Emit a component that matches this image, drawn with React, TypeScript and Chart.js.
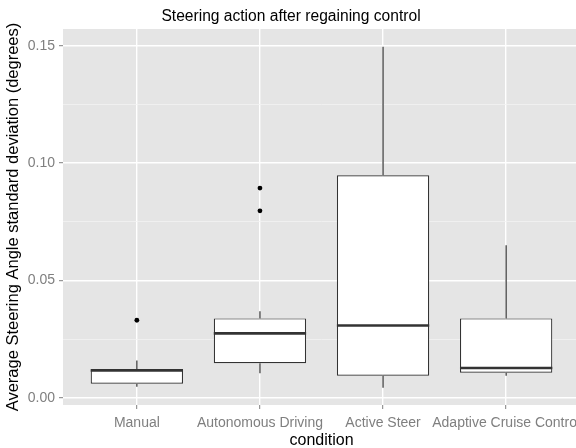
import { useEffect, useRef } from 'react';
import { Chart, registerables } from 'chart.js';

Chart.register(...registerables);

const categories = ['Manual', 'Autonomous Driving', 'Active Steer', 'Adaptive Cruise Control'];
const lowerWhisker = [0.0048, 0.0105, 0.0044, 0.0095];
const q1 = [0.0061, 0.0148, 0.0095, 0.0108];
const median = [0.0117, 0.0275, 0.0309, 0.0128];
const q3 = [0.0123, 0.0339, 0.0948, 0.0339];
const upperWhisker = [0.016, 0.0369, 0.1495, 0.065];
const outliers: number[][] = [[0.0331], [0.0894, 0.0797], [], []];

const yTicks = [0, 0.025, 0.05, 0.075, 0.1, 0.125, 0.15];
const majorYTicks = [0, 0.05, 0.1, 0.15];

const FONT = "'Liberation Sans', Arial, sans-serif";

export default function App() {
  const ref = useRef<HTMLCanvasElement>(null);

  useEffect(() => {
    const canvas = ref.current;
    if (!canvas) return;
    const positions = categories.map((_, i) => i + 1);
    const boxData = positions.map((x, i) => ({ x, y: [q1[i], q3[i]] }));
    const outlierData = outliers.flatMap((arr, i) => arr.map((v) => ({ x: i + 1, y: v })));

    const panelBg = {
      id: 'panelBg',
      beforeDraw(chart: any) {
        const { ctx, chartArea: a } = chart;
        ctx.save();
        ctx.fillStyle = '#E5E5E5';
        ctx.fillRect(a.left, a.top, a.right - a.left, a.bottom - a.top);
        ctx.restore();
      },
    };

    const boxExtras = {
      id: 'boxExtras',
      beforeDatasetsDraw(chart: any) {
        const { ctx } = chart;
        const xs = chart.scales.x;
        const ys = chart.scales.y;
        ctx.save();
        ctx.strokeStyle = '#333333';
        ctx.lineWidth = 1.2;
        positions.forEach((p, i) => {
          const x = xs.getPixelForValue(p);
          ctx.beginPath();
          ctx.moveTo(x, ys.getPixelForValue(q3[i]));
          ctx.lineTo(x, ys.getPixelForValue(upperWhisker[i]));
          ctx.moveTo(x, ys.getPixelForValue(q1[i]));
          ctx.lineTo(x, ys.getPixelForValue(lowerWhisker[i]));
          ctx.stroke();
        });
        ctx.restore();
      },
      afterDatasetsDraw(chart: any) {
        const { ctx } = chart;
        const ys = chart.scales.y;
        const meta = chart.getDatasetMeta(0);
        ctx.save();
        ctx.strokeStyle = '#333333';
        ctx.lineWidth = 2.6;
        meta.data.forEach((el: any, i: number) => {
          const y = ys.getPixelForValue(median[i]);
          ctx.beginPath();
          ctx.moveTo(el.x - el.width / 2, y);
          ctx.lineTo(el.x + el.width / 2, y);
          ctx.stroke();
        });
        ctx.restore();
      },
    };

    const chart = new Chart(canvas, {
      type: 'bar',
      data: {
        datasets: [
          {
            type: 'bar',
            data: boxData as any,
            backgroundColor: '#FFFFFF',
            borderColor: '#333333',
            borderWidth: 1.2,
            borderSkipped: false,
            barPercentage: 0.75,
            categoryPercentage: 1,
          },
          {
            type: 'scatter',
            data: outlierData as any,
            backgroundColor: '#000000',
            borderWidth: 0,
            pointRadius: 2.4,
          } as any,
        ],
      },
      options: {
        animation: false,
        responsive: false,
        devicePixelRatio: 1,
        layout: { padding: { left: 0, right: 2, top: 0, bottom: 0 } },
        plugins: {
          legend: { display: false },
          tooltip: { enabled: false },
          title: {
            display: true,
            text: 'Steering action after regaining control',
            color: '#000000',
            font: { family: FONT, size: 15.6, weight: 'normal' },
            padding: { top: 7.7, bottom: 2.6 },
          },
        },
        scales: {
          x: {
            type: 'linear',
            min: 0.4,
            max: 4.6,
            offset: false,
            afterBuildTicks: (scale: any) => {
              scale.ticks = positions.map((v) => ({ value: v }));
            },
            afterFit: (scale: any) => {
              scale.height = 43;
              scale.paddingLeft = 0;
              scale.paddingRight = 0;
            },
            ticks: {
              autoSkip: false,
              maxRotation: 0,
              minRotation: 0,
              padding: 6,
              color: '#7F7F7F',
              font: { family: FONT, size: 14 },
              callback: (v: any) => categories[Math.round(Number(v)) - 1] ?? '',
            },
            grid: {
              offset: false,
              color: '#FFFFFF',
              lineWidth: 1.4,
              tickColor: '#7F7F7F',
              tickLength: 4,
              tickWidth: 1,
            },
            border: { display: false },
            title: {
              display: true,
              text: 'condition',
              color: '#000000',
              font: { family: FONT, size: 16 },
              padding: { top: 0, bottom: -2.5 },
            },
          } as any,
          y: {
            type: 'linear',
            min: -0.00298,
            max: 0.1571,
            afterBuildTicks: (scale: any) => {
              scale.ticks = yTicks.map((v) => ({ value: v }));
            },
            afterFit: (scale: any) => {
              scale.width = 63;
              scale.paddingTop = 0;
              scale.paddingBottom = 0;
            },
            ticks: {
              padding: 4,
              color: '#7F7F7F',
              font: { family: FONT, size: 14 },
              callback: (v: any) => (majorYTicks.includes(Number(v)) ? Number(v).toFixed(2) : ''),
            },
            grid: {
              color: (c: any) => (majorYTicks.includes(c.tick?.value) ? '#FFFFFF' : '#F2F2F2'),
              lineWidth: (c: any) => (majorYTicks.includes(c.tick?.value) ? 1.4 : 0.8),
              tickColor: (c: any) => (majorYTicks.includes(c.tick?.value) ? '#7F7F7F' : 'rgba(0,0,0,0)'),
              tickLength: 4,
              tickWidth: 1,
            },
            border: { display: false },
            title: {
              display: true,
              text: 'Average Steering Angle standard deviation (degrees)',
              color: '#000000',
              font: { family: FONT, size: 16.5 },
              padding: { top: 4, bottom: 0 },
            },
          } as any,
        },
      },
      plugins: [panelBg, boxExtras],
    });

    return () => chart.destroy();
  }, []);

  return (
    <div style={{ position: 'fixed', left: 0, top: 0, width: 576, height: 448, overflow: 'hidden', background: '#FFFFFF' }}>
      <canvas ref={ref} width={584} height={448} style={{ display: 'block', width: 584, height: 448 }} />
    </div>
  );
}
